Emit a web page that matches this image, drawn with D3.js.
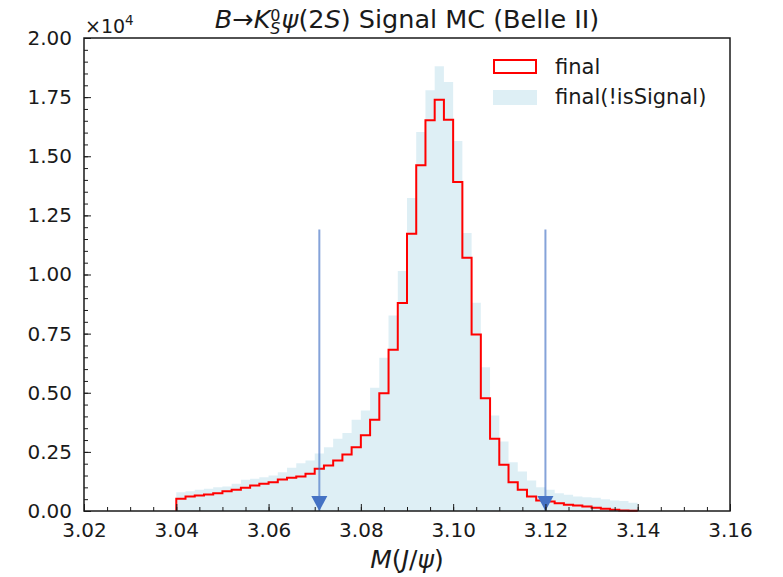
<!DOCTYPE html>
<html>
<head>
<meta charset="utf-8">
<script src="https://cdnjs.cloudflare.com/ajax/libs/d3/7.8.5/d3.min.js"></script>
<style>
  body { margin: 0; background: #fff; }
  text { font-family: "DejaVu Sans", sans-serif; fill: #1a1a1a; }
</style>
</head>
<body>
<svg width="783" height="577"></svg>
<script>
// histogram binning (50 bins of 0.002 from 3.04 to 3.14)
var binLow = 3.04;
var binWidth = 0.002;
var nBins = 50;

// "final" (red step outline)
var finalCounts = [516, 613, 656, 698, 753, 838, 897, 981, 1079, 1150,
  1218, 1332, 1404, 1460, 1573, 1785, 1925, 2136, 2390, 2700,
  3200, 3858, 4983, 6819, 8790, 11726, 14615, 16518, 17394, 16548,
  13908, 10710, 7466, 4772, 3053, 1954, 1218, 897, 613, 444,
  402, 330, 262, 233, 190, 135, 93, 51, 25, 10];

// "final(!isSignal)" (light blue filled)
var notSignalCounts = [795, 838, 897, 940, 1007, 1036, 1150, 1320, 1362, 1430,
  1502, 1641, 1827, 2022, 2136, 2430, 2700, 3053, 3300, 3858,
  4250, 5211, 6480, 8270, 10143, 13232, 16023, 17787, 18802, 18139,
  15643, 11751, 8807, 6083, 4040, 2940, 2065, 1671, 1290, 1007,
  897, 753, 685, 613, 584, 558, 499, 444, 420, 347];

// cut arrows
var cutValues = [3.071, 3.12];
var cutArrowTop = 11900;

// ticks
var xMajor = [3.02, 3.04, 3.06, 3.08, 3.10, 3.12, 3.14, 3.16];
var yMajor = [0, 2500, 5000, 7500, 10000, 12500, 15000, 17500, 20000];

var legendLabels = ["final", "final(!isSignal)"];

// layout
var svg = d3.select("svg");
var margin = {top: 38, left: 84, right: 53, bottom: 66};
var width = 783 - margin.left - margin.right;
var height = 577 - margin.top - margin.bottom;

var chart = svg.append("g")
  .attr("transform", "translate(" + margin.left + "," + margin.top + ")");

var x = d3.scaleLinear().domain([3.02, 3.16]).range([0, width]);
var y = d3.scaleLinear().domain([0, 20000]).range([height, 0]);

var edges = d3.range(nBins + 1).map(function(i) { return binLow + i * binWidth; });

// filled histogram
var fillPts = notSignalCounts.map(function(v, i) { return [edges[i], v]; });
fillPts.push([edges[nBins], notSignalCounts[nBins - 1]]);

var area = d3.area()
  .curve(d3.curveStepAfter)
  .x(function(d) { return x(d[0]); })
  .y0(y(0))
  .y1(function(d) { return y(d[1]); });

chart.append("path")
  .attr("d", area(fillPts))
  .attr("fill", "#add8e6")
  .attr("fill-opacity", 0.4);

// step outline
var stepPts = [[edges[0], 0]];
finalCounts.forEach(function(v, i) {
  stepPts.push([edges[i], v]);
  stepPts.push([edges[i + 1], v]);
});
stepPts.push([edges[nBins], 0]);

var line = d3.line()
  .x(function(d) { return x(d[0]); })
  .y(function(d) { return y(d[1]); });

chart.append("path")
  .attr("d", line(stepPts))
  .attr("fill", "none")
  .attr("stroke", "#ff0000")
  .attr("stroke-width", 2);

// cut arrows
cutValues.forEach(function(c) {
  chart.append("line")
    .attr("x1", x(c)).attr("x2", x(c))
    .attr("y1", y(cutArrowTop)).attr("y2", y(0))
    .attr("stroke", "#4472c4")
    .attr("stroke-opacity", 0.65)
    .attr("stroke-width", 2);
  var cx = x(c), by = y(0);
  chart.append("path")
    .attr("d", "M" + (cx - 8) + "," + (by - 15) + "L" + (cx + 8) + "," + (by - 15) + "L" + cx + "," + by + "Z")
    .attr("fill", "#4472c4");
});

// axes (inward ticks)
chart.append("g")
  .attr("transform", "translate(0," + height + ")")
  .call(d3.axisBottom(x).tickValues(xMajor).tickFormat(d3.format(".2f"))
    .tickSizeInner(-7).tickSizeOuter(0).tickPadding(12));
chart.append("g")
  .attr("transform", "translate(0," + height + ")")
  .call(d3.axisBottom(x).tickValues(d3.range(3.02, 3.1601, 0.005)).tickFormat("")
    .tickSizeInner(-4).tickSizeOuter(0));

chart.append("g")
  .call(d3.axisLeft(y).tickValues(yMajor).tickFormat(function(d) { return d3.format(".2f")(d / 10000); })
    .tickSizeInner(-7).tickSizeOuter(0).tickPadding(12));
chart.append("g")
  .call(d3.axisLeft(y).tickValues(d3.range(0, 20001, 500)).tickFormat("")
    .tickSizeInner(-4).tickSizeOuter(0));

chart.selectAll(".domain").remove();
chart.selectAll(".tick line").attr("stroke", "#1a1a1a").attr("stroke-width", 1);
chart.selectAll(".tick text").style("font-size", "20px").attr("fill", "#1a1a1a");

// frame
chart.append("rect")
  .attr("width", width).attr("height", height)
  .attr("fill", "none")
  .attr("stroke", "#1a1a1a")
  .attr("stroke-width", 1.5);

// multiplier
var mult = svg.append("text").attr("x", 85).attr("y", 33).style("font-size", "19px");
mult.append("tspan").text("\u00d710");
mult.append("tspan").attr("dy", -8).style("font-size", "13.5px").text("4");

// title
var title = svg.append("text")
  .attr("x", margin.left + width / 2).attr("y", 28)
  .attr("text-anchor", "middle")
  .style("font-size", "25.5px");
title.append("tspan").style("font-style", "italic").text("B");
title.append("tspan").text("\u2192");
title.append("tspan").style("font-style", "italic").text("K");
var sub = title.append("tspan").attr("dy", 6).style("font-size", "16px").style("font-style", "italic").text("S");
var sup = title.append("tspan").attr("dy", -13).style("font-size", "16px").text("0");
var subW = sub.node().getComputedTextLength();
sup.attr("dx", -subW);
var supW = sup.node().getComputedTextLength();
title.append("tspan").attr("dy", 7).attr("dx", Math.max(subW - supW, 0) + 1).style("font-style", "italic").text("\u03c8");
title.append("tspan").text("(2");
title.append("tspan").style("font-style", "italic").text("S");
title.append("tspan").text(") Signal MC (Belle II)");

// x label
var xl = svg.append("text")
  .attr("x", margin.left + width / 2).attr("y", 568)
  .attr("text-anchor", "middle")
  .style("font-size", "25px");
xl.append("tspan").style("font-style", "italic").text("M");
xl.append("tspan").text("(");
xl.append("tspan").style("font-style", "italic").text("J");
xl.append("tspan").text("/");
xl.append("tspan").style("font-style", "italic").text("\u03c8");
xl.append("tspan").text(")");

// legend
var legend = svg.append("g").attr("transform", "translate(493,59)");
legend.append("rect")
  .attr("x", 1).attr("y", 1).attr("width", 42).attr("height", 13)
  .attr("fill", "none").attr("stroke", "#ff0000").attr("stroke-width", 2);
legend.append("rect")
  .attr("x", 0).attr("y", 31).attr("width", 44).attr("height", 15)
  .attr("fill", "#add8e6").attr("fill-opacity", 0.4);
legend.selectAll("text.lbl")
  .data(legendLabels)
  .enter()
  .append("text")
  .attr("class", "lbl")
  .attr("x", 62)
  .attr("y", function(d, i) { return 15 + i * 30; })
  .style("font-size", "21px")
  .text(function(d) { return d; });
</script>
</body>
</html>
